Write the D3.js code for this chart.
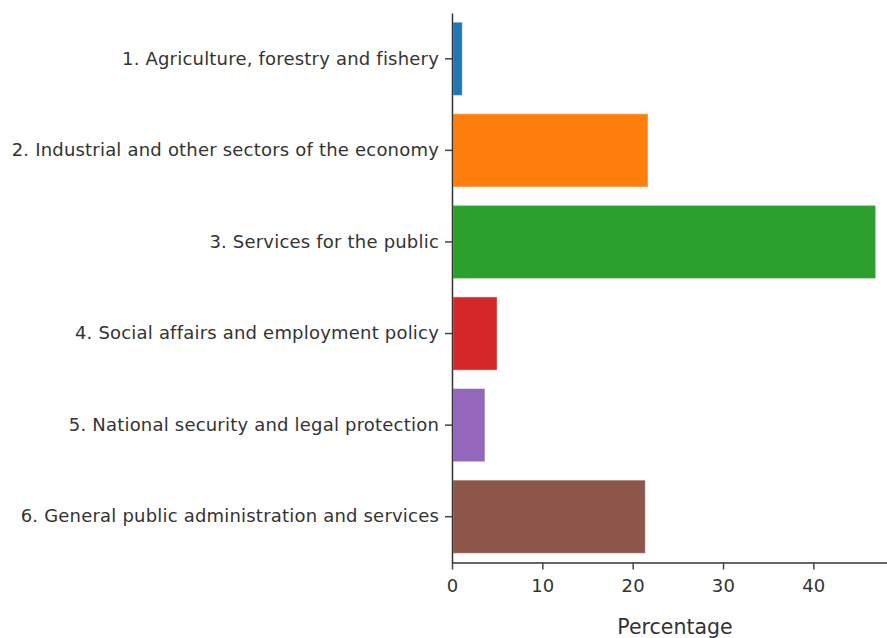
<!DOCTYPE html>
<html>
<head>
<meta charset="utf-8">
<script src="https://cdn.jsdelivr.net/npm/d3@7"></script>
<style>
  body { margin: 0; background: #fff; }
  svg { display: block; font-family: "DejaVu Sans", Verdana, sans-serif; }
</style>
</head>
<body>
<svg id="chart" width="887" height="638"></svg>
<script>
// sectors and their share (%)
const categories = [
    '1. Agriculture, forestry and fishery',
    '2. Industrial and other sectors of the economy',
    '3. Services for the public',
    '4. Social affairs and employment policy',
    '5. National security and legal protection',
    '6. General public administration and services'
];
const values = [1.14, 21.7, 46.9, 5.0, 3.65, 21.4];
const colors = ['#1f77b4', '#ff7f0e', '#2ca02c', '#d62728', '#9467bd', '#8c564b'];
const xTicks = [0, 10, 20, 30, 40];
const xLabel = 'Percentage';

const svg = d3.select('#chart');
const margin = { top: 13, right: 0, bottom: 75.5, left: 452 };
const width = 887 - margin.left - margin.right;
const height = 638 - margin.top - margin.bottom;

const g = svg.append('g').attr('transform', `translate(${margin.left},${margin.top})`);

const x = d3.scaleLinear().domain([0, 48.15]).range([0, width]);
const y = d3.scaleBand().domain(categories).range([0, height])
    .paddingInner(0.2).paddingOuter(0.1);

// bars
g.selectAll('.bar')
    .data(categories)
    .enter().append('rect')
    .attr('class', 'bar')
    .attr('x', x(0) + 1)
    .attr('y', d => y(d))
    .attr('width', (d, i) => x(values[i]) - x(0) - 1)
    .attr('height', y.bandwidth())
    .attr('fill', (d, i) => colors[i])
    .attr('stroke', '#fff')
    .attr('stroke-opacity', 0.5)
    .attr('stroke-width', 1);

// axes
const xAxis = g.append('g')
    .attr('transform', `translate(0,${height})`)
    .call(d3.axisBottom(x).tickValues(xTicks).tickSize(7).tickPadding(10).tickSizeOuter(0));

const yAxis = g.append('g')
    .call(d3.axisLeft(y).tickSize(7).tickPadding(6).tickSizeOuter(0));

[xAxis, yAxis].forEach(ax => {
    ax.select('.domain').attr('stroke', '#333').attr('stroke-width', 1.5);
    ax.selectAll('.tick line').attr('stroke', '#444').attr('stroke-width', 1.5);
    ax.selectAll('.tick text')
        .attr('fill', '#333')
        .style('font-size', '18px')
        .style('letter-spacing', '0.2px')
        .style('font-family', '"DejaVu Sans", Verdana, sans-serif');
});

// x axis title
svg.append('text')
    .attr('x', 675)
    .attr('y', 633.5)
    .attr('text-anchor', 'middle')
    .attr('fill', '#333')
    .style('font-size', '20.5px')
    .text(xLabel);
</script>
</body>
</html>
